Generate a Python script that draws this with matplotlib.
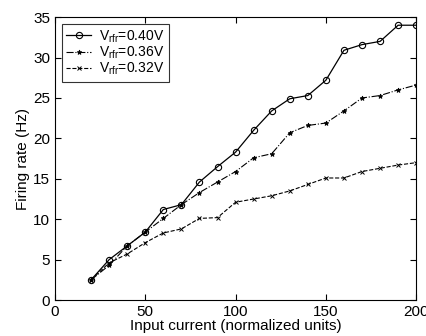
import numpy as np
import matplotlib
matplotlib.use('Agg')
import matplotlib.pyplot as plt

plt.rcParams['font.family'] = ['Liberation Sans', 'DejaVu Sans']
plt.rcParams['mathtext.default'] = 'regular'

### Data
current = [20, 30, 40, 50, 60, 70, 80, 90, 100, 110, 120, 130, 140, 150, 160, 170, 180, 190, 200]
rate_040 = [2.5, 5.0, 6.7, 8.4, 11.2, 11.8, 14.6, 16.5, 18.3, 21.0, 23.4, 24.9, 25.3, 27.2, 30.9, 31.6, 32.0, 34.0, 34.0]
rate_036 = [2.5, 4.3, 6.7, 8.4, 10.1, 11.8, 13.3, 14.6, 15.9, 17.6, 18.1, 20.7, 21.6, 21.9, 23.4, 25.0, 25.3, 26.0, 26.6]
rate_032 = [2.5, 4.6, 5.7, 7.1, 8.3, 8.8, 10.1, 10.2, 12.1, 12.5, 12.9, 13.5, 14.3, 15.1, 15.1, 15.9, 16.3, 16.7, 17.0]
labels = ['V$_{rfr}$=0.40V', 'V$_{rfr}$=0.36V', 'V$_{rfr}$=0.32V']

### Plot
fig = plt.figure(figsize=(4.26, 3.36), dpi=100)
ax = fig.add_axes([0.129, 0.107, 0.848, 0.842])

ax.plot(current, rate_040, '-', color='black', lw=0.9, marker='o', ms=4.5,
        mfc='none', mew=0.8, label=labels[0])
ax.plot(current, rate_036, '-.', color='black', lw=0.8, marker='*', ms=3.5,
        mew=0.6, label=labels[1])
ax.plot(current, rate_032, '--', color='black', lw=0.8, marker='x', ms=3.2,
        mew=0.7, label=labels[2])

ax.set_xlim(0, 200)
ax.set_ylim(0, 35)
ax.set_xticks([0, 50, 100, 150, 200])
ax.set_yticks(np.arange(0, 36, 5))
ax.tick_params(direction='in', top=True, right=True, labelsize=11, length=4, width=0.8)
ax.set_xlabel('Input current (normalized units)', fontsize=11, labelpad=0)
ax.set_ylabel('Firing rate (Hz)', fontsize=11, labelpad=2)

leg = ax.legend(loc='upper left', fontsize=10, frameon=True, fancybox=False,
                edgecolor='black', handlelength=1.8, borderaxespad=0.5,
                labelspacing=0.0, handletextpad=0.6, borderpad=0.3)
leg.get_frame().set_linewidth(0.8)

plt.savefig('out.png', dpi=100)
